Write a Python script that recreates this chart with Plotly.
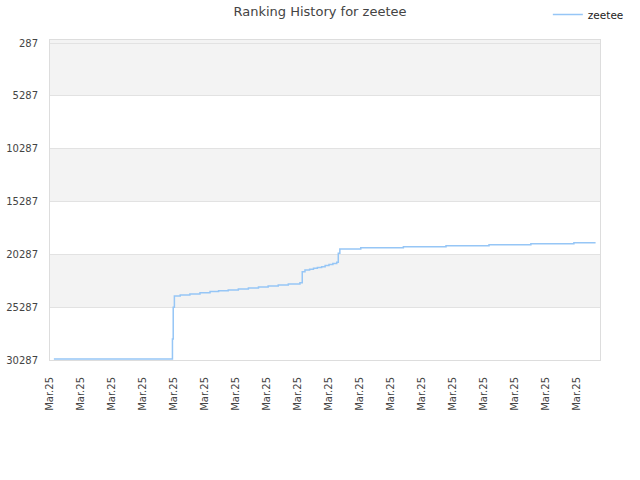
import plotly.graph_objects as go

# Rank samples (all on 25 March)
times = [
    "2025-03-25 00:10", "2025-03-25 05:16", "2025-03-25 05:18", "2025-03-25 05:21",
    "2025-03-25 05:36", "2025-03-25 06:01", "2025-03-25 06:27", "2025-03-25 06:53",
    "2025-03-25 07:15", "2025-03-25 07:40", "2025-03-25 08:06", "2025-03-25 08:32",
    "2025-03-25 08:58", "2025-03-25 09:23", "2025-03-25 09:49", "2025-03-25 10:15",
    "2025-03-25 10:45", "2025-03-25 10:51", "2025-03-25 10:58", "2025-03-25 11:10",
    "2025-03-25 11:20", "2025-03-25 11:30", "2025-03-25 11:41", "2025-03-25 11:50",
    "2025-03-25 12:00", "2025-03-25 12:10", "2025-03-25 12:20", "2025-03-25 12:24",
    "2025-03-25 12:28", "2025-03-25 13:22", "2025-03-25 15:12", "2025-03-25 17:02",
    "2025-03-25 18:53", "2025-03-25 20:41", "2025-03-25 22:32", "2025-03-25 23:28",
]
ranks = [
    30200, 28300, 25300, 24220,
    24130, 24030, 23930, 23810,
    23730, 23650, 23560, 23465,
    23370, 23275, 23180, 23090,
    22965, 21930, 21770, 21690,
    21610, 21530, 21455, 21350,
    21250, 21150, 21040, 20190,
    19787, 19665, 19570, 19475,
    19380, 19285, 19190, 19190,
]

y_ticks = [287, 5287, 10287, 15287, 20287, 25287, 30287]
band_color = "#f3f3f3"

fig = go.Figure()
fig.add_trace(go.Scatter(
    x=times, y=ranks, mode="lines", name="zeetee",
    line=dict(color="#96c6f6", width=1.5, shape="hv"),
))

# alternating grey bands between the y ticks
band_edges = [0] + y_ticks[1:]
for i in range(0, len(band_edges) - 1, 2):
    fig.add_shape(type="rect", xref="paper", yref="y", x0=0, x1=1,
                  y0=band_edges[i], y1=band_edges[i + 1],
                  fillcolor=band_color, line_width=0, layer="below")

fig.update_layout(
    width=640, height=480,
    margin=dict(l=50, r=40, t=40, b=120, autoexpand=False),
    paper_bgcolor="white", plot_bgcolor="white",
    font=dict(family="DejaVu Sans", size=10, color="#444"),
    title=dict(text="Ranking History for zeetee", x=0.5, xanchor="center",
               xref="container", yref="container",
               y=1 - 11 / 480, yanchor="middle", font=dict(size=13, color="#444")),
    showlegend=True,
    legend=dict(xref="container", yref="container", x=0.856, xanchor="left",
                y=1, yanchor="top", orientation="h",
                font=dict(size=10.5, color="#222"), bgcolor="rgba(0,0,0,0)"),
)
fig.update_xaxes(
    type="date",
    range=["2025-03-25 00:00", "2025-03-25 23:39:24"],
    tick0="2025-03-25 00:00", dtick=80 * 60 * 1000,
    tickformat="%b.%d", tickangle=-90, ticklabelstandoff=12,
    showgrid=False, ticks="", zeroline=False,
    showline=True, linecolor="#dddddd", mirror=True,
    tickfont=dict(size=10, color="#444"),
)
fig.update_yaxes(
    range=[30287, 0],
    tickvals=y_ticks, ticktext=[str(v) for v in y_ticks],
    ticklabelstandoff=9,
    showgrid=True, gridcolor="#e2e2e2", zeroline=False,
    showline=True, linecolor="#dddddd", mirror=True,
    tickfont=dict(size=10, color="#444"),
)

# drop the browser's default body margin so the chart sits at the page corner
fig.write_html("out.html", config={"displayModeBar": False},
               post_script="document.body.style.margin='0px';")
